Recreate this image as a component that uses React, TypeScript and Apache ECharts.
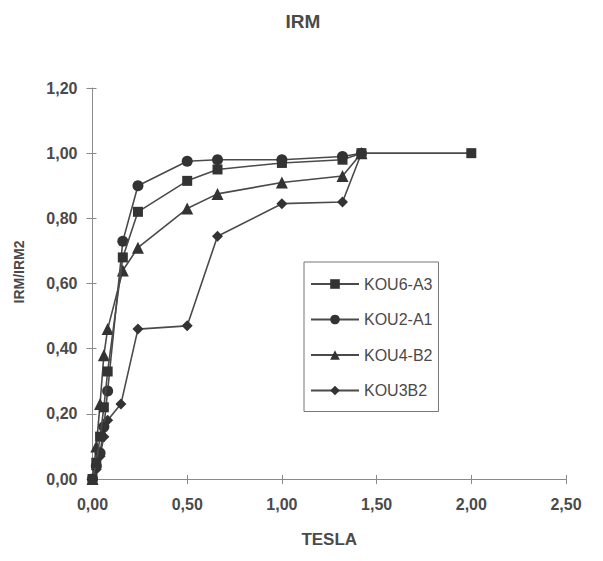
import React, { useEffect, useRef } from "react";
import * as echarts from "echarts";

const seriesNames = ["KOU6-A3", "KOU2-A1", "KOU4-B2", "KOU3B2"];
const symbols = ["rect", "circle", "triangle", "diamond"];
const symbolSizes = [10, 11, 12, 11];

const kou6A3: [number, number][] = [
  [0, 0], [0.02, 0.05], [0.04, 0.13], [0.06, 0.22], [0.08, 0.33], [0.16, 0.68],
  [0.24, 0.82], [0.5, 0.915], [0.66, 0.95], [1.0, 0.97], [1.32, 0.98], [1.42, 1.0], [2.0, 1.0],
];
const kou2A1: [number, number][] = [
  [0, 0], [0.02, 0.04], [0.04, 0.08], [0.06, 0.16], [0.08, 0.27], [0.16, 0.73],
  [0.24, 0.9], [0.5, 0.975], [0.66, 0.98], [1.0, 0.98], [1.32, 0.99], [1.42, 1.0],
];
const kou4B2: [number, number][] = [
  [0, 0], [0.02, 0.1], [0.04, 0.23], [0.06, 0.38], [0.08, 0.46], [0.16, 0.64],
  [0.24, 0.71], [0.5, 0.83], [0.66, 0.875], [1.0, 0.91], [1.32, 0.93], [1.42, 1.0],
];
const kou3B2: [number, number][] = [
  [0, 0], [0.02, 0.03], [0.04, 0.07], [0.06, 0.13], [0.08, 0.18], [0.15, 0.23],
  [0.24, 0.46], [0.5, 0.47], [0.66, 0.745], [1.0, 0.845], [1.32, 0.85], [1.42, 1.0],
];
const seriesData = [kou6A3, kou2A1, kou4B2, kou3B2];

const fmt = (v: number) => v.toFixed(2).replace(".", ",");

export default function App() {
  const ref = useRef<HTMLDivElement>(null);
  useEffect(() => {
    if (!ref.current) return;
    const chart = echarts.init(ref.current, undefined, { renderer: "svg" });
    const textColor = "#4a4a4a";
    const font = "Liberation Sans";
    const labelStyle = { fontFamily: font, fontSize: 16, fontWeight: "bold", color: textColor };
    chart.setOption({
      animation: false,
      backgroundColor: "#fff",
      title: {
        text: "IRM",
        left: 295,
        top: 4,
        padding: 0,
        textAlign: "center",
        textStyle: { fontFamily: font, fontSize: 19, fontWeight: "bold", color: textColor },
      },
      grid: { left: 84.5, right: 29, top: 80, bottom: 66 },
      legend: {
        orient: "vertical",
        left: 296,
        top: 254,
        padding: [14, 6, 13, 6],
        itemGap: 19.5,
        itemWidth: 48,
        itemHeight: 12,
        borderColor: "#777",
        borderWidth: 1,
        backgroundColor: "#fff",
        data: seriesNames,
        textStyle: { fontFamily: font, fontSize: 16, color: textColor },
      },
      graphic: [
        {
          type: "text",
          x: 11,
          y: 264,
          rotation: Math.PI / 2,
          style: {
            text: "IRM/IRM2",
            fontFamily: font,
            fontSize: 14,
            fontWeight: "bold",
            fill: textColor,
            textAlign: "center",
            textVerticalAlign: "middle",
          },
        },
      ],
      xAxis: [
        {
          type: "value",
          min: 0,
          max: 2.5,
          interval: 0.5,
          name: "TESLA",
          nameLocation: "middle",
          nameGap: 52,
          nameTextStyle: { fontFamily: font, fontSize: 17, fontWeight: "bold", color: textColor },
          axisLine: { show: true, onZero: false, lineStyle: { color: "#8a8a8a" } },
          axisTick: { show: true, length: 5, lineStyle: { color: "#8a8a8a" } },
          axisLabel: { ...labelStyle, formatter: fmt, margin: 17 },
          splitLine: { show: false },
        },
        {
          type: "value",
          position: "bottom",
          min: 0,
          max: 2.5,
          interval: 0.5,
          axisLine: { show: false, onZero: false },
          axisTick: { show: true, inside: true, length: 4, lineStyle: { color: "#8a8a8a" } },
          axisLabel: { show: false },
          splitLine: { show: false },
        },
      ],
      yAxis: [
        {
          type: "value",
          min: 0,
          max: 1.2,
          interval: 0.2,
          axisLine: { show: true, onZero: false, lineStyle: { color: "#8a8a8a" } },
          axisTick: { show: true, length: 6, lineStyle: { color: "#8a8a8a" } },
          axisLabel: { ...labelStyle, formatter: fmt, margin: 15 },
          splitLine: { show: false },
        },
        {
          type: "value",
          position: "left",
          min: 0,
          max: 1.2,
          interval: 0.2,
          axisLine: { show: false, onZero: false },
          axisTick: { show: true, inside: true, length: 4, lineStyle: { color: "#8a8a8a" } },
          axisLabel: { show: false },
          splitLine: { show: false },
        },
      ],
      series: seriesNames.map((name, i) => ({
        name,
        type: "line",
        data: seriesData[i],
        symbol: symbols[i],
        symbolSize: symbolSizes[i],
        showAllSymbol: true,
        lineStyle: { color: "#4a4a4a", width: 1.6 },
        itemStyle: { color: "#333" },
        z: 10 - i,
      })),
    });
    return () => chart.dispose();
  }, []);
  return <div ref={ref} style={{ width: 587, height: 545 }} />;
}
